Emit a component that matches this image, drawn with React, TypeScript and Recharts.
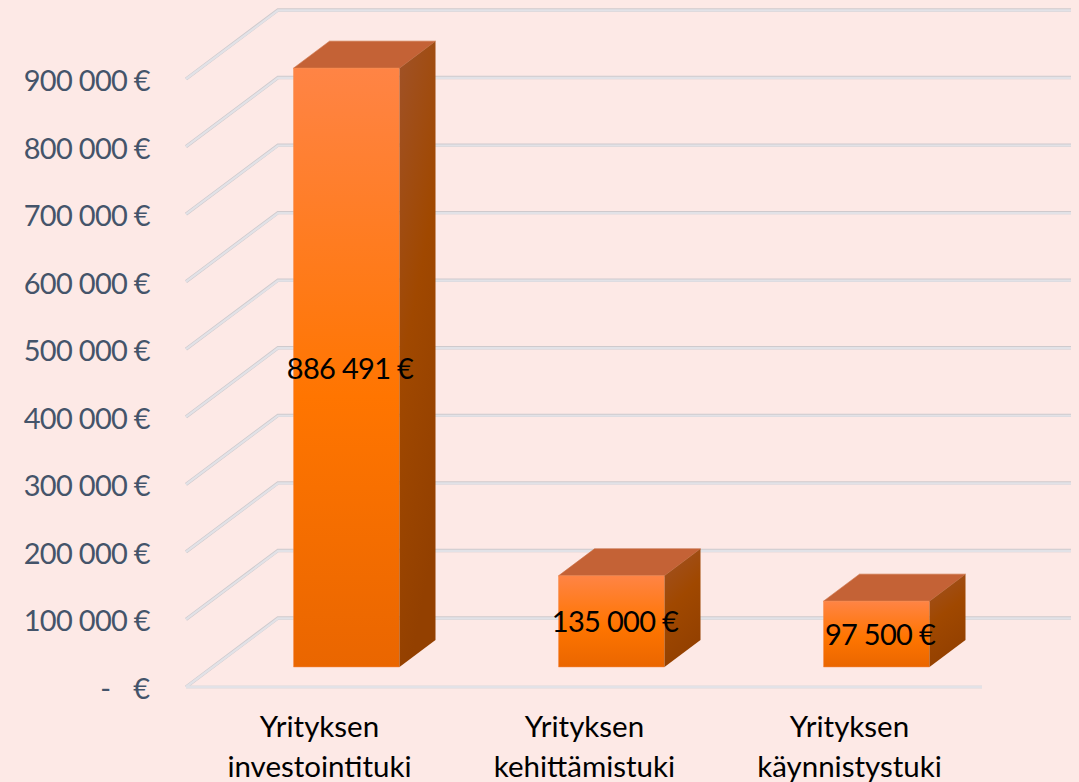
import React from "react";
import { BarChart, Bar, XAxis, YAxis, CartesianGrid, LabelList } from "recharts";

const categories = ["Yrityksen investointituki", "Yrityksen kehittämistuki", "Yrityksen käynnistystuki"];
const values = [886491, 135000, 97500];
const yTicks = [0, 100000, 200000, 300000, 400000, 500000, 600000, 700000, 800000, 900000];
const data = categories.map((name, i) => ({ name, value: values[i] }));

const FONT = "Lato, Carlito, 'Open Sans', sans-serif";
const WALL_DX = 92, WALL_DY = -69;
const BAR_DX = 27.5, BAR_DY = -20;
const DEPTH_X = 36, DEPTH_Y = -27;
const FLOOR_SHORT = 90;

const fmt = (v: number) => {
  const s = String(Math.round(v));
  return s.replace(/\B(?=(\d{3})+(?!\d))/g, " ") + " €";
};

const GridLine = (p: any) => {
  const { x1, x2, y1 } = p;
  const bx = x1 + WALL_DX, by = y1 + WALL_DY, ex = x2 + FLOOR_SHORT;
  const zero = Math.abs(y1 - 687) < 1;
  return (
    <g key={p.key} fill="none">
      <polyline points={`${x1},${y1} ${bx},${by} ${ex},${by}`} stroke="#CFCACD" strokeWidth={3.4} />
      {zero && <line x1={x1} y1={y1} x2={x2 + 1} y2={y1} stroke="#DCD9DC" strokeWidth={3.2} />}
      <polyline points={`${x1},${y1} ${bx},${by + 0.4} ${ex},${by + 0.4}`} stroke="#E2E2E7" strokeWidth={2.2} />
      {zero && <line x1={x1} y1={y1} x2={x2 + 1} y2={y1} stroke="#E2E2E7" strokeWidth={2.2} />}
    </g>
  );
};

const Bar3D = (p: any) => {
  const x = p.x + BAR_DX, y = p.y + BAR_DY, w = p.width, h = p.height;
  const r = x + w, b = y + h;
  return (
    <g>
      <polygon points={`${x},${y} ${r},${y} ${r + DEPTH_X},${y + DEPTH_Y} ${x + DEPTH_X},${y + DEPTH_Y}`} fill="#C46236" stroke="#C96B3E" strokeWidth={0.6} />
      <rect x={x} y={y} width={w} height={h} fill="url(#frontGrad)" />
      <polyline points={`${r},${b} ${x},${b} ${x},${y} ${r},${y}`} fill="none" stroke="#F58C50" strokeOpacity={0.7} strokeWidth={0.7} />
      <polygon points={`${r},${y} ${r + DEPTH_X},${y + DEPTH_Y} ${r + DEPTH_X},${b + DEPTH_Y} ${r},${b}`} fill="url(#sideGrad)" />
    </g>
  );
};

const YTick = (p: any) => {
  const v = p.payload.value;
  const label = v === 0 ? "-   €" : fmt(v);
  return (
    <text x={150} y={p.y + 12} textAnchor="end" fontFamily={FONT} fontSize={29} letterSpacing={v === 0 ? 0 : -0.7} fill="#44546A" style={{ whiteSpace: "pre" }}>
      {label}
    </text>
  );
};

const XTick = (p: any) => {
  const lines = String(p.payload.value).split(" ");
  return (
    <text textAnchor="middle" fontFamily={FONT} fontSize={29.5} fill="#000000">
      {lines.map((l: string, i: number) => (
        <tspan key={i} x={p.x + 1} y={737 + i * 40}>{l}</tspan>
      ))}
    </text>
  );
};

const ValueLabel = (p: any) => (
  <text
    x={p.x + p.width / 2 + BAR_DX + 3.5}
    y={p.y + p.height / 2 + BAR_DY + 11}
    textAnchor="middle"
    fontFamily={FONT}
    fontSize={29}
    letterSpacing={-0.7}
    fill="#000000"
  >
    {fmt(p.value)}
  </text>
);

export default function App() {
  return (
    <div style={{ position: "absolute", left: 0, top: 0, width: 1079, height: 782, background: "#FDE9E6", overflow: "hidden" }}>
      <BarChart width={1079} height={782} data={data} margin={{ top: 79, right: 98, bottom: 0, left: 0 }} barCategoryGap={0}>
        <defs>
          <linearGradient id="frontGrad" x1="0" y1="0" x2="0" y2="1">
            <stop offset="0%" stopColor="#FF8445" />
            <stop offset="55%" stopColor="#FF7500" />
            <stop offset="100%" stopColor="#EA6600" />
          </linearGradient>
          <linearGradient id="sideGrad" x1="0" y1="0" x2="0.3" y2="1">
            <stop offset="0%" stopColor="#A05228" />
            <stop offset="50%" stopColor="#A04800" />
            <stop offset="100%" stopColor="#934000" />
          </linearGradient>
        </defs>
        <CartesianGrid vertical={false} horizontal={(props: any) => <GridLine {...props} />} />
        <XAxis dataKey="name" height={95} axisLine={false} tickLine={false} interval={0} tick={(p: any) => <XTick {...p} />} />
        <YAxis width={186} domain={[0, 900000]} ticks={yTicks} interval={0} axisLine={false} tickLine={false} tick={(p: any) => <YTick {...p} />} />
        <Bar dataKey="value" barSize={106} isAnimationActive={false} shape={(p: any) => <Bar3D {...p} />}>
          <LabelList dataKey="value" content={(p: any) => <ValueLabel {...p} />} />
        </Bar>
      </BarChart>
    </div>
  );
}
